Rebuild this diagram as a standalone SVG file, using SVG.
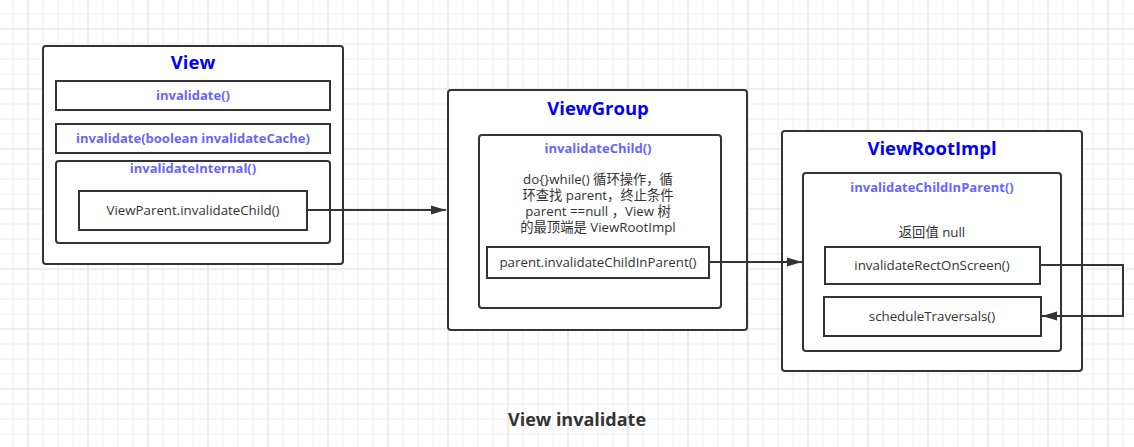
<svg xmlns="http://www.w3.org/2000/svg" width="1134" height="447" viewBox="0 0 1134 447">
<style>
.box{fill:#fff;stroke:#333;stroke-width:2}
.title{font-family:"Open Sans","Noto Sans CJK SC",sans-serif;font-weight:bold;font-size:18.5px;fill:#0000ff;text-anchor:middle}
.meth{font-family:"Open Sans","Noto Sans CJK SC",sans-serif;font-weight:bold;font-size:13px;fill:#6666ff;text-anchor:middle}
.txt{font-family:"Open Sans","Noto Sans CJK SC",sans-serif;font-size:13.3px;fill:#333;text-anchor:middle}
.edge{fill:none;stroke:#333;stroke-width:2}
.cap{font-family:"Open Sans","Noto Sans CJK SC",sans-serif;font-weight:bold;font-size:18px;fill:#333;text-anchor:middle}
</style>
<defs>
<pattern id="g1" x="12.5" y="13.5" width="15" height="15" patternUnits="userSpaceOnUse">
<path d="M0.5 0V15M0 0.5H15" stroke="#efefef" stroke-width="1" fill="none"/>
</pattern>
<pattern id="g2" x="27.5" y="28.5" width="60" height="60" patternUnits="userSpaceOnUse">
<path d="M0.5 0V60M0 0.5H60" stroke="#e4e4e4" stroke-width="1" fill="none"/>
</pattern>
<marker id="arr" markerUnits="userSpaceOnUse" markerWidth="16" markerHeight="10" refX="15" refY="5" orient="auto">
<path d="M0,0.5 L15,5 L0,9.5 Z" fill="#333"/>
</marker>
</defs>
<rect width="1134" height="447" fill="#fff"/>
<rect width="1134" height="447" fill="url(#g1)"/>
<rect width="1134" height="447" fill="url(#g2)"/>

<g id="view">
<rect class="box" x="43" y="46" width="300" height="218" rx="3"/>
<text class="title" x="193" y="69">View</text>
</g>
<g id="view-invalidate">
<rect class="box" x="56" y="81" width="274" height="29"/>
<text class="meth" x="193" y="100">invalidate()</text>
</g>
<g id="view-invalidate-cache">
<rect class="box" x="56" y="124" width="274" height="29"/>
<text class="meth" x="193" y="143">invalidate(boolean invalidateCache)</text>
</g>
<g id="view-invalidate-internal">
<rect class="box" x="56" y="161" width="274" height="82" rx="3"/>
<text class="meth" x="193" y="173">invalidateInternal()</text>
</g>
<g id="view-parent-invalidate-child">
<rect class="box" x="79" y="191" width="228" height="39"/>
<text class="txt" x="193" y="215">ViewParent.invalidateChild()</text>
</g>

<g id="viewgroup">
<rect class="box" x="448" y="90" width="299" height="240" rx="3"/>
<text class="title" x="598" y="115">ViewGroup</text>
</g>
<g id="viewgroup-invalidate-child">
<rect class="box" x="479" y="135" width="242" height="173" rx="3"/>
<text class="meth" x="598" y="153">invalidateChild()</text>
<text class="txt" x="598" y="184">do{}while() 循环操作，循</text>
<text class="txt" x="598" y="200">环查找 parent，终止条件</text>
<text class="txt" x="598" y="216">parent ==null ，View 树</text>
<text class="txt" x="598" y="232">的最顶端是 ViewRootImpl</text>
</g>
<g id="viewgroup-parent-call">
<rect class="box" x="487" y="247" width="222" height="31"/>
<text class="txt" x="598" y="267">parent.invalidateChildInParent()</text>
</g>

<g id="viewrootimpl">
<rect class="box" x="782" y="131" width="300" height="240" rx="3"/>
<text class="title" x="932" y="155">ViewRootImpl</text>
</g>
<g id="viewrootimpl-invalidate-child-in-parent">
<rect class="box" x="803" y="173" width="258" height="178" rx="3"/>
<text class="meth" x="932" y="192">invalidateChildInParent()</text>
<text class="txt" x="932" y="237">返回值 null</text>
</g>
<g id="invalidate-rect-on-screen">
<rect class="box" x="825" y="247" width="215" height="37"/>
<text class="txt" x="932" y="270">invalidateRectOnScreen()</text>
</g>
<g id="schedule-traversals">
<rect class="box" x="824" y="297" width="217" height="39"/>
<text class="txt" x="932" y="321">scheduleTraversals()</text>
</g>

<g id="connectors">
<path class="edge" d="M307 210H446" marker-end="url(#arr)"/>
<path class="edge" d="M709 262H802" marker-end="url(#arr)"/>
<path class="edge" d="M1040 265H1123V316H1042" marker-end="url(#arr)"/>
</g>

<text class="cap" x="577" y="426">View invalidate</text>
</svg>
